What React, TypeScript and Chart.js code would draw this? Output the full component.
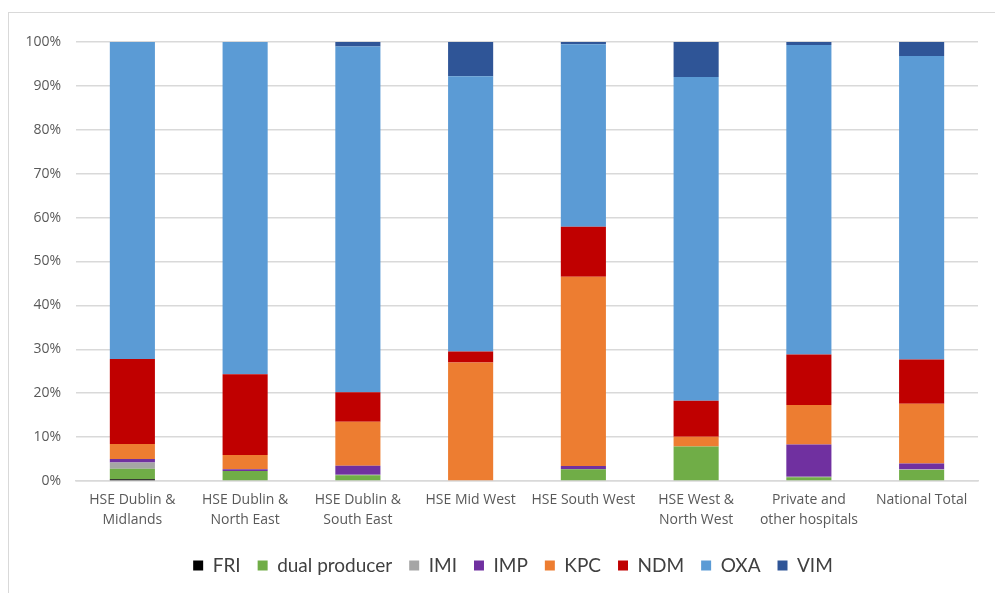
import React, { useEffect, useRef } from "react";
import { Chart, registerables } from "chart.js";

Chart.register(...registerables);

const categories: (string | string[])[] = [
  ["HSE Dublin &", "Midlands"],
  ["HSE Dublin &", "North East"],
  ["HSE Dublin &", "South East"],
  "HSE Mid West",
  "HSE South West",
  ["HSE West &", "North West"],
  ["Private and", "other hospitals"],
  "National Total",
];

const FRI = [0.4, 0, 0, 0, 0, 0, 0, 0];
const dualProducer = [2.4, 2.3, 1.3, 0, 2.7, 7.85, 0.85, 2.5];
const IMI = [1.4, 0, 0.15, 0, 0, 0, 0.1, 0.2];
const IMP = [0.8, 0.4, 2.05, 0, 0.7, 0, 7.35, 1.3];
const KPC = [3.4, 3.2, 10.0, 27.0, 43.1, 2.25, 9.0, 13.6];
const NDM = [19.4, 18.4, 6.7, 2.5, 11.4, 8.2, 11.5, 10.1];
const OXA = [72.2, 75.7, 78.8, 62.7, 41.6, 73.7, 70.5, 69.1];
const VIM = [0, 0, 1.0, 7.8, 0.5, 8.0, 0.7, 3.2];

const yTicks = [0, 10, 20, 30, 40, 50, 60, 70, 80, 90, 100];

const seriesNames = ["FRI", "dual producer", "IMI", "IMP", "KPC", "NDM", "OXA", "VIM"];
const seriesValues = [FRI, dualProducer, IMI, IMP, KPC, NDM, OXA, VIM];
const seriesColors = ["#000000", "#70AD47", "#A5A5A5", "#7030A0", "#ED7D31", "#C00000", "#5B9BD5", "#2F5597"];

const legendShift = {
  id: "legendShift",
  afterLayout(chart: any) {
    if (chart.legend) {
      chart.legend.left += 24;
      chart.legend.right += 24;
    }
  },
};

export default function App() {
  const canvasRef = useRef<HTMLCanvasElement | null>(null);

  useEffect(() => {
    if (!canvasRef.current) return;
    const chart = new Chart(canvasRef.current, {
      type: "bar",
      data: {
        labels: categories,
        datasets: seriesNames.map((name, i) => ({
          label: name,
          data: seriesValues[i],
          backgroundColor: seriesColors[i],
          borderWidth: 0,
          barPercentage: 0.4,
          categoryPercentage: 1,
        })),
      },
      plugins: [legendShift],
      options: {
        animation: false,
        responsive: false,
        maintainAspectRatio: false,
        layout: { padding: { top: 42, right: 17, left: 0, bottom: 8 } },
        plugins: {
          tooltip: { enabled: false },
          legend: {
            position: "bottom",
            labels: {
              boxWidth: 10,
              boxHeight: 10,
              padding: 17,
              color: "#404040",
              font: { family: "Lato", size: 19 },
            },
          },
        },
        scales: {
          x: {
            stacked: true,
            grid: { display: false },
            border: { display: true, color: "#d9d9d9", width: 1.5 },
            ticks: {
              color: "#595959",
              font: { family: "Open Sans", size: 14, lineHeight: 1.45 },
              maxRotation: 0,
              padding: 1,
            },
            afterFit: (scale: any) => {
              scale.height = 58;
            },
          },
          y: {
            stacked: true,
            min: 0,
            max: 100,
            afterBuildTicks: (scale: any) => {
              scale.ticks = yTicks.map((v) => ({ value: v }));
            },
            grid: { color: "#d9d9d9", lineWidth: 1.5, drawTicks: false },
            border: { display: false },
            ticks: {
              color: "#595959",
              font: { family: "Open Sans", size: 14 },
              padding: 15,
              callback: (v: any) => v + "%",
            },
            afterFit: (scale: any) => {
              scale.width = 76;
            },
          },
        },
      },
    });
    return () => chart.destroy();
  }, []);

  return (
    <div style={{ position: "fixed", left: 0, top: 0, width: 995, height: 593, overflow: "hidden", background: "#fff" }}>
      <div
        style={{
          position: "absolute",
          left: 8,
          top: 12,
          width: 1010,
          height: 620,
          border: "1.5px solid #d9d9d9",
          boxSizing: "border-box",
        }}
      />
      <canvas ref={canvasRef} width={995} height={593} style={{ position: "absolute", left: 0, top: 0 }} />
    </div>
  );
}
